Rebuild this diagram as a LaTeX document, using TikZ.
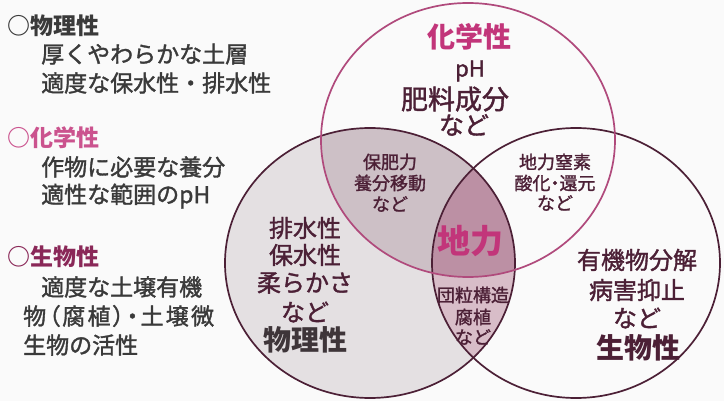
\documentclass[tikz,border=0pt]{standalone}
\usepackage{fontspec}
\newfontfamily\jp[FakeBold=1.5]{Noto Sans CJK JP}
\newfontfamily\jpb{Noto Sans CJK JP}
\newcommand\pdot{{\addfontfeature{RawFeature=+palt}・}}
\definecolor{bgc}{HTML}{FAFAFA}
\definecolor{pinkc}{HTML}{C2357A}
\definecolor{pinkline}{HTML}{B04A7C}
\definecolor{maroon}{HTML}{4C2036}
\definecolor{maroonh}{HTML}{8A2858}
\definecolor{bodyc}{HTML}{3A3A3A}
\definecolor{fillL}{HTML}{E4E0E2}
\definecolor{fillLT}{HTML}{CDC0C6}
\definecolor{fillLR}{HTML}{D8BDC8}
\definecolor{fillLTR}{HTML}{BC90A4}
\tikzset{
  fs/.style={font=\jp\fontsize{#1}{#1}\selectfont},
  body/.style={fs=23, text=bodyc, anchor=west, inner sep=0pt},
  head/.style={font=\jpb\bfseries\fontsize{23}{23}\selectfont, anchor=west, inner sep=0pt},
  small/.style={fs=18, text=maroon, inner sep=0pt},
  mid/.style={fs=24, text=maroon, inner sep=0pt},
  big/.style={font=\jpb\bfseries\fontsize{28}{28}\selectfont, inner sep=0pt},
  outline/.style={line width=1.7pt, draw=maroon},
}
\begin{document}
\begin{tikzpicture}[x=1pt,y=-1pt]
\fill[bgc] (0,0) rectangle (724,401);
\useasboundingbox (0,0) rectangle (724,401);
% regions
\def\top{(468,140) ellipse [x radius=147pt, y radius=137pt]}
\def\lft{(370,263) ellipse [x radius=145pt, y radius=135pt]}
\def\rgt{(576,263) ellipse [x radius=144pt, y radius=135pt]}
\fill[fillL] \lft;
\begin{scope}
  \clip \top;
  \fill[fillLT] \lft;
\end{scope}
\begin{scope}
  \clip \rgt;
  \fill[fillLR] \lft;
\end{scope}
\begin{scope}
  \clip \top;
  \clip \rgt;
  \fill[fillLTR] \lft;
\end{scope}
\draw[outline] \lft;
\draw[outline] \rgt;
\draw[line width=1.7pt, draw=pinkline] \top;

% left column
\node[head, text=bodyc] (h1) at (7,26) {○物理性};
\node[body] (b11) at (41,54) {厚くやわらかな土層};
\node[body] (b12) at (41,83) {適度な保水性・排水性};
\node[head, text=pinkc!85!white] (h2) at (7,138) {○化学性};
\node[body] (b21) at (41,167) {作物に必要な養分};
\node[body] (b22) at (41,196) {適性な範囲のpH};
\node[head, text=maroonh] (h3) at (7,257) {○生物性};
\node[body] (b31) at (41,287) {適度な土壌有機};
\node[body] (b32) at (23,316) {\addfontfeature{RawFeature=+palt,LetterSpace=10}物（腐植）・土壌微};
\node[body] (b33) at (23,345) {生物の活性};

% top circle
\node[big, text=pinkc] (t1) at (469,37) {化学性};
\node[fs=22, text=maroon, inner sep=0pt] (t2) at (470,71) {pH};
\node[fs=27, text=maroon, inner sep=0pt] (t3) at (455,99) {肥料成分};
\node[fs=25, text=maroon, inner sep=0pt] (t4) at (464,125) {など};

% top-left overlap
\node[small] (a1) at (390,162) {保肥力};
\node[small] (a2) at (390,183) {養分移動};
\node[small] (a3) at (390,204) {など};

% top-right overlap
\node[small] (c1) at (555,162) {地力窒素};
\node[small] (c2) at (555,183) {酸化\pdot 還元};
\node[small] (c3) at (555,203) {など};

% center
\node[font=\jpb\bfseries\fontsize{33}{33}\selectfont, text=pinkc, inner sep=0pt] (d1) at (470,241) {地力};

% left-right overlap
\node[small] (e1) at (473,295) {団粒構造};
\node[small] (e2) at (473,317) {腐植};
\node[small] (e3) at (473,337) {など};

% left circle
\node[mid] (l1) at (305,228) {排水性};
\node[mid] (l2) at (305,255) {保水性};
\node[mid] (l3) at (305,283) {柔らかさ};
\node[mid] (l4) at (305,312) {など};
\node[big, text=bodyc!80!maroon] (l5) at (305,340) {物理性};

% right circle
\node[mid] (r1) at (637,260) {有機物分解};
\node[mid] (r2) at (637,290) {病害抑止};
\node[mid] (r3) at (637,318) {など};
\node[big, text=maroon] (r4) at (638,348) {生物性};
\end{tikzpicture}
\end{document}
